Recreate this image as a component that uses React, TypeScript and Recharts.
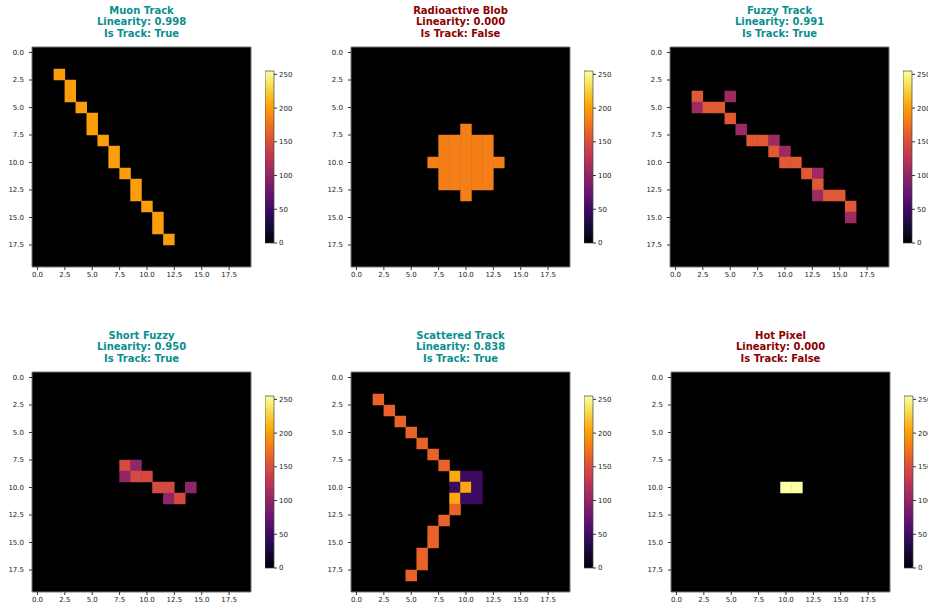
import {
  ScatterChart,
  Scatter,
  XAxis,
  YAxis,
  ReferenceArea,
  BarChart,
  Bar,
} from "recharts";

// Pixel data: [column, row, value 0-255]
const MUON_PIXELS = [
  [2, 2, 200], [3, 3, 200], [3, 4, 200], [4, 5, 200], [5, 6, 200], [5, 7, 200],
  [6, 8, 200], [7, 9, 200], [7, 10, 200], [8, 11, 200], [9, 12, 200], [9, 13, 200],
  [10, 14, 200], [11, 15, 200], [11, 16, 200], [12, 17, 200],
];

const BLOB_PIXELS = [
  [10, 7, 182],
  [8, 8, 182], [9, 8, 182], [10, 8, 182], [11, 8, 182], [12, 8, 182],
  [8, 9, 182], [9, 9, 182], [10, 9, 182], [11, 9, 182], [12, 9, 182],
  [7, 10, 182], [8, 10, 182], [9, 10, 182], [10, 10, 182], [11, 10, 182], [12, 10, 182], [13, 10, 182],
  [8, 11, 182], [9, 11, 182], [10, 11, 182], [11, 11, 182], [12, 11, 182],
  [8, 12, 182], [9, 12, 182], [10, 12, 182], [11, 12, 182], [12, 12, 182],
  [10, 13, 182],
];

const FUZZY_PIXELS = [
  [2, 4, 158], [5, 4, 108],
  [2, 5, 108], [3, 5, 158], [4, 5, 158],
  [5, 6, 158],
  [6, 7, 108],
  [7, 8, 158], [8, 8, 158], [9, 8, 108],
  [9, 9, 158], [10, 9, 108],
  [10, 10, 158], [11, 10, 158],
  [12, 11, 158], [13, 11, 108],
  [13, 12, 158],
  [13, 13, 108], [14, 13, 158], [15, 13, 158],
  [16, 14, 158],
  [16, 15, 108],
];

const SHORT_PIXELS = [
  [8, 8, 146], [9, 8, 100],
  [8, 9, 100], [9, 9, 146], [10, 9, 146],
  [11, 10, 146], [12, 10, 146], [14, 10, 100],
  [12, 11, 100], [13, 11, 146],
];

const SCATTERED_PIXELS = [
  [2, 2, 165], [3, 3, 165], [4, 4, 165], [5, 5, 165], [6, 6, 165], [7, 7, 165], [8, 8, 165],
  [9, 9, 206], [10, 9, 48], [11, 9, 48],
  [9, 10, 48], [10, 10, 206], [11, 10, 48],
  [9, 11, 206], [10, 11, 48], [11, 11, 48],
  [9, 12, 165], [8, 13, 165], [7, 14, 165], [7, 15, 165],
  [6, 16, 165], [6, 17, 165], [5, 18, 165],
];

const HOT_PIXELS = [
  [10, 10, 255], [11, 10, 255],
];

const PANEL_NAMES = ["Muon Track", "Radioactive Blob", "Fuzzy Track", "Short Fuzzy", "Scattered Track", "Hot Pixel"];
const LINEARITY = [0.998, 0.0, 0.991, 0.95, 0.838, 0.0];
const IS_TRACK = [true, false, true, true, true, false];
const PANEL_PIXELS = [MUON_PIXELS, BLOB_PIXELS, FUZZY_PIXELS, SHORT_PIXELS, SCATTERED_PIXELS, HOT_PIXELS];

const AXIS_TICKS = [0, 2.5, 5, 7.5, 10, 12.5, 15, 17.5];
const CBAR_TICKS = [0, 50, 100, 150, 200, 250];

// matplotlib inferno, sampled at 0, 0.1, ... 1
const INFERNO = [
  "#000004", "#160b39", "#420a68", "#6a176e", "#932667", "#bc3754",
  "#dd513a", "#f37819", "#fca50a", "#f6d746", "#fcffa4",
];

const GRID_N = 20;
const PLOT_W = 219;
const PLOT_H = 220;
const CELL_W = PLOT_W / GRID_N;
const CELL_H = PLOT_H / GRID_N;
const FONT = "'DejaVu Sans', sans-serif";

const PANEL_POS = [
  { left: 32, top: 47 },
  { left: 351, top: 47 },
  { left: 670, top: 47 },
  { left: 32, top: 372 },
  { left: 351, top: 372 },
  { left: 671, top: 372 },
];

function hex(c: string) {
  return [1, 3, 5].map((i) => parseInt(c.slice(i, i + 2), 16));
}

function inferno(v: number) {
  const t = Math.max(0, Math.min(1, v / 255)) * (INFERNO.length - 1);
  const i = Math.min(Math.floor(t), INFERNO.length - 2);
  const f = t - i;
  const a = hex(INFERNO[i]);
  const b = hex(INFERNO[i + 1]);
  const c = a.map((x, k) => Math.round(x + (b[k] - x) * f));
  return `rgb(${c[0]},${c[1]},${c[2]})`;
}

const cellShape = (props: any) => {
  const { cx, cy, payload } = props;
  return (
    <rect
      x={cx - CELL_W / 2 - 0.25}
      y={cy - CELL_H / 2 - 0.25}
      width={CELL_W + 0.5}
      height={CELL_H + 0.5}
      fill={inferno(payload.v)}
    />
  );
};

const tickStyle = { fontSize: 7, fill: "#222", fontFamily: FONT };

function Panel({ idx }: { idx: number }) {
  const pos = PANEL_POS[idx];
  const data = PANEL_PIXELS[idx].map(([x, y, v]) => ({ x, y, v }));
  const color = IS_TRACK[idx] ? "#0a8f8f" : "#8b0000";
  const gradId = `inferno-${idx}`;

  return (
    <>
      {/* title */}
      <div
        style={{
          position: "absolute",
          left: pos.left - 40,
          width: PLOT_W + 80,
          top: pos.top - 42,
          textAlign: "center",
          fontFamily: FONT,
          fontWeight: "bold",
          fontSize: 10,
          lineHeight: "11.3px",
          color,
          whiteSpace: "nowrap",
        }}
      >
        <div>{PANEL_NAMES[idx]}</div>
        <div>Linearity: {LINEARITY[idx].toFixed(3)}</div>
        <div>Is Track: {IS_TRACK[idx] ? "True" : "False"}</div>
      </div>

      {/* image */}
      <div style={{ position: "absolute", left: pos.left - 32, top: pos.top - 7 }}>
        <ScatterChart
          width={32 + PLOT_W + 4}
          height={7 + PLOT_H + 18}
          margin={{ top: 7, right: 4, bottom: 0, left: 2 }}
        >
          <XAxis
            type="number"
            dataKey="x"
            domain={[-0.5, 19.5]}
            ticks={AXIS_TICKS}
            tickFormatter={(v: number) => v.toFixed(1)}
            tick={tickStyle}
            tickSize={3}
            tickMargin={2}
            tickLine={{ stroke: "#333" }}
            axisLine={false}
            height={18}
            allowDataOverflow
            interval={0}
          />
          <YAxis
            type="number"
            dataKey="y"
            domain={[-0.5, 19.5]}
            reversed
            ticks={AXIS_TICKS}
            tickFormatter={(v: number) => v.toFixed(1)}
            tick={tickStyle}
            tickSize={3}
            tickMargin={5}
            tickLine={{ stroke: "#333" }}
            axisLine={false}
            width={30}
            allowDataOverflow
            interval={0}
          />
          <ReferenceArea
            x1={-0.5}
            x2={19.5}
            y1={-0.5}
            y2={19.5}
            fill="#000"
            fillOpacity={1}
            stroke="#777"
            strokeWidth={1}
          />
          <Scatter data={data} shape={cellShape} isAnimationActive={false} />
        </ScatterChart>
      </div>

      {/* colorbar */}
      <div style={{ position: "absolute", left: pos.left + PLOT_W + 14, top: pos.top + 24 - 4 }}>
        <BarChart
          width={9 + 26}
          height={172 + 8}
          data={[{ name: "cb", v: 255 }]}
          margin={{ top: 4, right: 0, bottom: 4, left: 0 }}
          barCategoryGap={0}
        >
          <defs>
            <linearGradient id={gradId} x1="0" y1="1" x2="0" y2="0">
              {INFERNO.map((c, i) => (
                <stop key={i} offset={`${(i / (INFERNO.length - 1)) * 100}%`} stopColor={c} />
              ))}
            </linearGradient>
          </defs>
          <XAxis dataKey="name" hide />
          <YAxis
            orientation="right"
            type="number"
            domain={[0, 255]}
            ticks={CBAR_TICKS}
            tick={tickStyle}
            tickSize={3}
            tickMargin={2}
            tickLine={{ stroke: "#333" }}
            axisLine={false}
            width={26}
            interval={0}
          />
          <Bar dataKey="v" fill={`url(#${gradId})`} stroke="#444" strokeWidth={0.7} isAnimationActive={false} />
        </BarChart>
      </div>
    </>
  );
}

export default function App() {
  return (
    <div
      style={{
        position: "absolute",
        left: 0,
        top: 0,
        width: 928,
        height: 606,
        overflow: "hidden",
        background: "#fff",
      }}
    >
      {PANEL_NAMES.map((_, i) => (
        <Panel key={i} idx={i} />
      ))}
    </div>
  );
}
